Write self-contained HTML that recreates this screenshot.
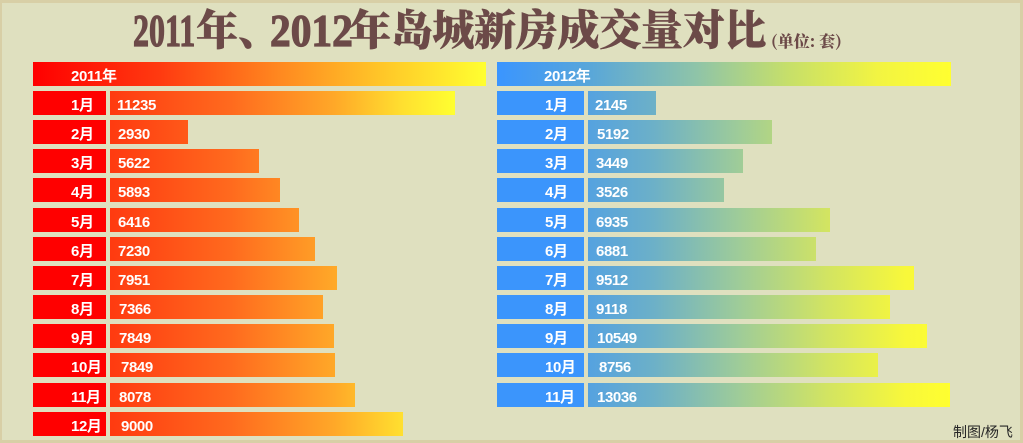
<!DOCTYPE html>
<html><head><meta charset="utf-8">
<style>
*{margin:0;padding:0;box-sizing:border-box}
html,body{width:1023px;height:443px;overflow:hidden}
body{background:#dfe0bf;position:relative;font-family:"Liberation Sans","Noto Sans CJK SC",sans-serif}
.frame{position:absolute;left:0;top:0;width:1023px;height:443px;border:3px solid #d8cfa6;border-left-width:2px}
.t{position:absolute;white-space:nowrap;color:#6c4a48;font-weight:bold}
.dig{font-family:"Liberation Serif",serif;font-size:46px;line-height:46px;top:7.5px;transform-origin:0 0;-webkit-text-stroke:1.2px #6c4a48}
.cjk{font-family:"Noto Serif CJK SC",serif;font-weight:900;font-size:42px;line-height:42px;top:7px;-webkit-text-stroke:0.5px #6c4a48}
.bar{position:absolute;height:24px}
.lbl{position:absolute;color:#fff;font-weight:bold;font-size:15px;line-height:24px;letter-spacing:-0.4px;white-space:nowrap}
.lm{background:#ff0000}
.rm{background:#3b95fc}
.lv{background:linear-gradient(90deg,#ff3a10 0%,#ff6a1e 35%,#ffa828 65%,#ffe030 85%,#ffff30 100%);background-size:345px 100%;background-repeat:no-repeat}
.rv{background:linear-gradient(90deg,#55a2e0 0%,#6cb0c8 18%,#9fcc98 42%,#d2e462 66%,#f8f83a 88%,#ffff30 100%);background-size:362px 100%;background-repeat:no-repeat}
</style></head><body>
<div class="frame"></div>

<span class="t dig" style="left:133px;transform:scaleX(0.696)">2011</span>
<span class="t cjk" style="left:196px">年</span>
<span class="t cjk" style="left:238px">、</span>
<span class="t dig" style="left:270px;transform:scaleX(0.9)">2012</span>
<span class="t cjk" style="left:349px;letter-spacing:-0.3px">年岛城新房成交量对比</span>
<span class="t" style="left:771px;top:31px;font-family:'Noto Serif CJK SC',serif;font-size:16px;line-height:20px;font-weight:900">(单位: 套)</span>

<!-- left header -->
<div class="bar" style="left:33px;top:62px;width:453px;background:linear-gradient(90deg,#ff0000 0%,#ff3a10 28%,#ff8a20 55%,#ffc428 76%,#ffff30 100%)"></div>
<div class="lbl" style="left:71px;top:65px">2011年</div>
<!-- right header -->
<div class="bar" style="left:497px;top:62px;width:454px;background:linear-gradient(90deg,#3a95ff 0%,#58a6da 20%,#8fc4a8 44%,#c6df6a 64%,#f2f442 84%,#ffff30 100%)"></div>
<div class="lbl" style="left:544px;top:65px">2012年</div>

<!-- left rows -->
<div class="bar lm" style="left:33px;top:91px;width:73px"></div><div class="bar lv" style="left:110px;top:91px;width:345px"></div>
<div class="lbl" style="left:71px;top:94px">1月</div><div class="lbl" style="left:117px;top:94px">11235</div>

<div class="bar lm" style="left:33px;top:120.15px;width:73px"></div><div class="bar lv" style="left:110px;top:120.15px;width:78px"></div>
<div class="lbl" style="left:71px;top:123.15px">2月</div><div class="lbl" style="left:118px;top:123.15px">2930</div>

<div class="bar lm" style="left:33px;top:149.3px;width:73px"></div><div class="bar lv" style="left:110px;top:149.3px;width:149px"></div>
<div class="lbl" style="left:71px;top:152.3px">3月</div><div class="lbl" style="left:118px;top:152.3px">5622</div>

<div class="bar lm" style="left:33px;top:178.45px;width:73px"></div><div class="bar lv" style="left:110px;top:178.45px;width:170px"></div>
<div class="lbl" style="left:71px;top:181.45px">4月</div><div class="lbl" style="left:118px;top:181.45px">5893</div>

<div class="bar lm" style="left:33px;top:207.6px;width:73px"></div><div class="bar lv" style="left:110px;top:207.6px;width:189px"></div>
<div class="lbl" style="left:71px;top:210.6px">5月</div><div class="lbl" style="left:118px;top:210.6px">6416</div>

<div class="bar lm" style="left:33px;top:236.75px;width:73px"></div><div class="bar lv" style="left:110px;top:236.75px;width:205px"></div>
<div class="lbl" style="left:71px;top:239.75px">6月</div><div class="lbl" style="left:118px;top:239.75px">7230</div>

<div class="bar lm" style="left:33px;top:265.9px;width:73px"></div><div class="bar lv" style="left:110px;top:265.9px;width:227px"></div>
<div class="lbl" style="left:71px;top:268.9px">7月</div><div class="lbl" style="left:118px;top:268.9px">7951</div>

<div class="bar lm" style="left:33px;top:295.05px;width:73px"></div><div class="bar lv" style="left:110px;top:295.05px;width:213px"></div>
<div class="lbl" style="left:71px;top:298.05px">8月</div><div class="lbl" style="left:119px;top:298.05px">7366</div>

<div class="bar lm" style="left:33px;top:324.2px;width:73px"></div><div class="bar lv" style="left:110px;top:324.2px;width:224px"></div>
<div class="lbl" style="left:71px;top:327.2px">9月</div><div class="lbl" style="left:119px;top:327.2px">7849</div>

<div class="bar lm" style="left:33px;top:353.35px;width:73px"></div><div class="bar lv" style="left:110px;top:353.35px;width:225px"></div>
<div class="lbl" style="left:71px;top:356.35px">10月</div><div class="lbl" style="left:121px;top:356.35px">7849</div>

<div class="bar lm" style="left:33px;top:382.5px;width:73px"></div><div class="bar lv" style="left:110px;top:382.5px;width:245px"></div>
<div class="lbl" style="left:71px;top:385.5px">11月</div><div class="lbl" style="left:119px;top:385.5px">8078</div>

<div class="bar lm" style="left:33px;top:411.65px;width:73px"></div><div class="bar lv" style="left:110px;top:411.65px;width:293px"></div>
<div class="lbl" style="left:71px;top:414.65px">12月</div><div class="lbl" style="left:121px;top:414.65px">9000</div>

<!-- right rows -->
<div class="bar rm" style="left:497px;top:91px;width:87px"></div><div class="bar rv" style="left:588px;top:91px;width:68px"></div>
<div class="lbl" style="left:545px;top:94px">1月</div><div class="lbl" style="left:595px;top:94px">2145</div>

<div class="bar rm" style="left:497px;top:120.15px;width:87px"></div><div class="bar rv" style="left:588px;top:120.15px;width:184px"></div>
<div class="lbl" style="left:545px;top:123.15px">2月</div><div class="lbl" style="left:597px;top:123.15px">5192</div>

<div class="bar rm" style="left:497px;top:149.3px;width:87px"></div><div class="bar rv" style="left:588px;top:149.3px;width:155px"></div>
<div class="lbl" style="left:545px;top:152.3px">3月</div><div class="lbl" style="left:596px;top:152.3px">3449</div>

<div class="bar rm" style="left:497px;top:178.45px;width:87px"></div><div class="bar rv" style="left:588px;top:178.45px;width:136px"></div>
<div class="lbl" style="left:545px;top:181.45px">4月</div><div class="lbl" style="left:596px;top:181.45px">3526</div>

<div class="bar rm" style="left:497px;top:207.6px;width:87px"></div><div class="bar rv" style="left:588px;top:207.6px;width:242px"></div>
<div class="lbl" style="left:545px;top:210.6px">5月</div><div class="lbl" style="left:596px;top:210.6px">6935</div>

<div class="bar rm" style="left:497px;top:236.75px;width:87px"></div><div class="bar rv" style="left:588px;top:236.75px;width:228px"></div>
<div class="lbl" style="left:545px;top:239.75px">6月</div><div class="lbl" style="left:596px;top:239.75px">6881</div>

<div class="bar rm" style="left:497px;top:265.9px;width:87px"></div><div class="bar rv" style="left:588px;top:265.9px;width:326px"></div>
<div class="lbl" style="left:545px;top:268.9px">7月</div><div class="lbl" style="left:596px;top:268.9px">9512</div>

<div class="bar rm" style="left:497px;top:295.05px;width:87px"></div><div class="bar rv" style="left:588px;top:295.05px;width:302px"></div>
<div class="lbl" style="left:545px;top:298.05px">8月</div><div class="lbl" style="left:596px;top:298.05px">9118</div>

<div class="bar rm" style="left:497px;top:324.2px;width:87px"></div><div class="bar rv" style="left:588px;top:324.2px;width:339px"></div>
<div class="lbl" style="left:545px;top:327.2px">9月</div><div class="lbl" style="left:597px;top:327.2px">10549</div>

<div class="bar rm" style="left:497px;top:353.35px;width:87px"></div><div class="bar rv" style="left:588px;top:353.35px;width:290px"></div>
<div class="lbl" style="left:545px;top:356.35px">10月</div><div class="lbl" style="left:599px;top:356.35px">8756</div>

<div class="bar rm" style="left:497px;top:382.5px;width:87px"></div><div class="bar rv" style="left:588px;top:382.5px;width:362px"></div>
<div class="lbl" style="left:545px;top:385.5px">11月</div><div class="lbl" style="left:597px;top:385.5px">13036</div>

<div style="position:absolute;left:953px;top:424px;font-size:14px;line-height:16px;color:#262626;white-space:nowrap;font-family:'Liberation Sans','Noto Sans CJK SC',sans-serif">制图/杨飞</div>
</body></html>
